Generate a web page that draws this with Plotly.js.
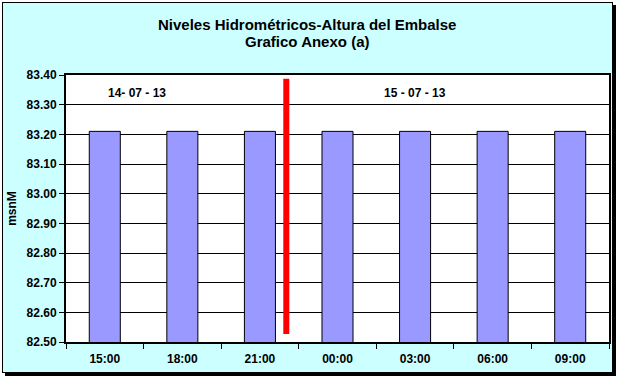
<!DOCTYPE html>
<html>
<head>
<meta charset="utf-8">
<script src="https://cdn.plot.ly/plotly-3.0.1.min.js"></script>
<style>
  html, body { margin: 0; padding: 0; width: 620px; height: 382px; overflow: hidden; background: #ffffff; }
  #frame { position: absolute; left: 2px; top: 2px; width: 609px; height: 369px; background: #CCFFFF; border: 1px solid #000; box-shadow: 3px 3px 0 #000; }
  #chart { position: absolute; left: 0; top: 0; width: 620px; height: 382px; }
</style>
</head>
<body>
<div id="frame"></div>
<div id="chart"></div>
<script>
// Data
var categories = ['15:00', '18:00', '21:00', '00:00', '03:00', '06:00', '09:00'];
var levels = [83.21, 83.21, 83.21, 83.21, 83.21, 83.21, 83.21];
var titleLines = ['Niveles Hidrométricos-Altura del Embalse', 'Grafico Anexo (a)'];
var dateLabels = ['14- 07 - 13', '15 - 07 - 13'];
var dateLabelX = [0.41, 4.0];
var dateLabelY = [83.34, 83.34];
var dividerX = [2.34, 2.34];
var dividerY = [82.527, 83.387];

var fontFam = 'Arial, "Liberation Sans", sans-serif';

var traces = [{
  type: 'bar',
  x: categories,
  y: levels,
  marker: { color: '#9999FF', line: { color: '#000000', width: 1 } },
  hoverinfo: 'x+y'
}];

var annotations = dateLabels.map(function (t, i) {
  return {
    text: t, x: dateLabelX[i], y: dateLabelY[i], xref: 'x', yref: 'y',
    showarrow: false, font: { family: fontFam, size: 12, color: '#000', weight: 'bold' }
  };
});
var titleY = [1.19, 1.1236];
titleLines.forEach(function (t, i) {
  annotations.push({
    text: t, x: 0.444, y: titleY[i], xref: 'paper', yref: 'paper',
    xanchor: 'center', yanchor: 'middle', showarrow: false,
    font: { family: fontFam, size: 15, color: '#000', weight: 'bold' }
  });
});

var shapes = [{
  type: 'line', xref: 'x', yref: 'y',
  x0: dividerX[0], x1: dividerX[1], y0: dividerY[0], y1: dividerY[1],
  line: { color: '#FF0000', width: 6 }
}];

var layout = {
  width: 620, height: 382,
  margin: { l: 66, r: 11, t: 75, b: 40 },
  paper_bgcolor: 'rgba(0,0,0,0)',
  plot_bgcolor: '#FFFFFF',
  showlegend: false,
  bargap: 0.6,
  xaxis: {
    type: 'category',
    range: [-0.5, 6.5],
    showline: true, linecolor: '#000', linewidth: 2, mirror: true,
    ticks: 'outside', tickson: 'boundaries', ticklen: 5, tickcolor: '#000',
    ticklabelstandoff: 5,
    showgrid: false,
    tickfont: { family: fontFam, size: 12, color: '#000', weight: 'bold' },
    fixedrange: true
  },
  yaxis: {
    range: [82.5, 83.4],
    dtick: 0.1, tick0: 82.5,
    tickformat: '.2f',
    showline: true, linecolor: '#000', linewidth: 2, mirror: true,
    ticks: 'outside', ticklen: 5, tickcolor: '#000',
    showgrid: true, gridcolor: '#000', gridwidth: 1,
    zeroline: false,
    tickfont: { family: fontFam, size: 12, color: '#000', weight: 'bold' },
    title: { text: 'msnM', standoff: 7, font: { family: fontFam, size: 12, color: '#000', weight: 'bold' } },
    fixedrange: true
  },
  annotations: annotations,
  shapes: shapes
};

Plotly.newPlot('chart', traces, layout, { displayModeBar: false, staticPlot: true });
</script>
</body>
</html>
